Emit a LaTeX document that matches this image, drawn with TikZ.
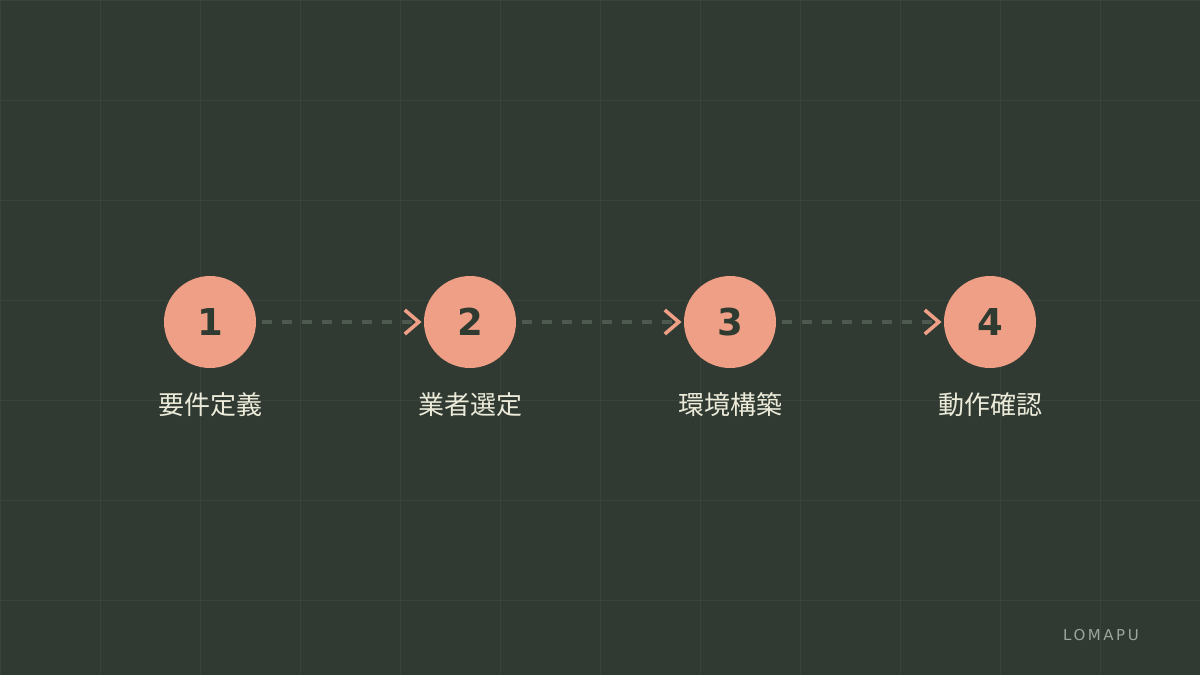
\documentclass[tikz,border=0pt]{standalone}
\usepackage{fontspec}
\setmainfont{DejaVu Sans}
\newfontfamily\cjk{Noto Sans CJK JP}
\newfontfamily\numfont{DejaVu Sans}
\newfontfamily\brandfont[LetterSpace=17]{DejaVu Sans}
\definecolor{bgc}{HTML}{303A32}
\definecolor{gridc}{HTML}{39433A}
\definecolor{circc}{HTML}{EE9F85}
\definecolor{numc}{HTML}{2F3A31}
\definecolor{labc}{HTML}{ECEBDA}
\definecolor{dashc}{HTML}{4E5950}
\definecolor{brandc}{HTML}{9AA59B}
\tikzset{
  stepcirc/.style={circle, fill=circc, minimum size=92pt, inner sep=0pt,
    font=\numfont\bfseries\fontsize{37}{40}\selectfont, text=numc},
  steplabel/.style={inner sep=0pt, text=labc, font=\cjk\fontsize{26}{30}\selectfont},
  dashconn/.style={draw=dashc, line width=4pt, dash pattern=on 10pt off 10pt},
  chevron/.style={draw=circc, line width=3.6pt, line cap=butt, line join=miter},
}
\begin{document}
\begin{tikzpicture}[x=1pt,y=-1pt]
\fill[bgc] (0,0) rectangle (1200,675);
\useasboundingbox (0,0) rectangle (1200,675);
\foreach \i in {0,100,...,1200} \draw[gridc, line width=1pt] (\i,0) -- (\i,675);
\foreach \j in {0,100,...,600} \draw[gridc, line width=1pt] (0,\j) -- (1200,\j);

\node[stepcirc] (c1) at (210,322) {1};
\node[stepcirc] (c2) at (470,322) {2};
\node[stepcirc] (c3) at (730,322) {3};
\node[stepcirc] (c4) at (990,322) {4};

\node[steplabel] (l1) at (210,405) {要件定義};
\node[steplabel] (l2) at (470,405) {業者選定};
\node[steplabel] (l3) at (730,405) {環境構築};
\node[steplabel] (l4) at (990,405) {動作確認};

\foreach \a/\b in {c1/c2,c2/c3,c3/c4}{
  \draw[dashconn] ([xshift=6pt]\a.east) -- ([xshift=-11pt]\b.west);
  \draw[chevron] ([xshift=-19pt,yshift=12pt]\b.west) -- ([xshift=-5pt]\b.west) -- ([xshift=-19pt,yshift=-12pt]\b.west);
}

\node[anchor=west, inner sep=0pt, text=brandc, font=\brandfont\fontsize{15}{18}\selectfont] (brand) at (1063,635.5) {LOMAPU};
\end{tikzpicture}
\end{document}
